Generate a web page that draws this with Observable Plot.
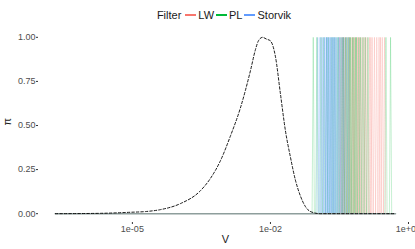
<!DOCTYPE html>
<html>
<head>
<meta charset="utf-8">
<script src="https://cdn.jsdelivr.net/npm/d3@7"></script>
<script src="https://cdn.jsdelivr.net/npm/@observablehq/plot@0.6"></script>
<style>
  html, body { margin: 0; padding: 0; background: white; overflow: hidden; }
  #wrap { position: relative; width: 415px; height: 249px; font-family: "Liberation Sans", Arial, sans-serif; }
  #legend { position: absolute; top: 8px; left: 38px; right: 3px; height: 14px; display: flex; justify-content: center; align-items: center; font-size: 11px; color: #1a1a1a; }
  #legend .title { margin-right: 4px; }
  #legend .sw { width: 11px; height: 1.2px; margin: 0 2px 0 0; }
  #legend .lab { margin-right: 2px; }
</style>
</head>
<body>
<div id="wrap"><div id="legend"></div></div>
<script>
// ---- data ----
const filters = ["LW", "PL", "Storvik"];
const filterColors = ["#F8766D", "#00BA38", "#619CFF"];

// prior curve (dashed): log10(V) and normalized density pi
const priorLogV = [-6.674, -5.696, -5.043, -4.717, -4.391, -3.957, -3.522, -3.304, -3.087, -2.870, -2.652, -2.435, -2.326, -2.261, -2.174, -2.087, -2.000, -1.891, -1.783, -1.674, -1.565, -1.457, -1.348, -1.239, -1.130, -0.913, 0.717];
const priorPi   = [0, 0.002, 0.008, 0.012, 0.023, 0.057, 0.13, 0.20, 0.30, 0.44, 0.60, 0.81, 0.93, 0.98, 1.0, 0.99, 0.98, 0.89, 0.68, 0.47, 0.32, 0.19, 0.10, 0.04, 0.012, 0, 0];

// spike locations (log10 V) for each filter run
const spikesLW = [-0.50, -0.46, -0.43, -0.41, -0.38, -0.36, -0.32, -0.29, -0.27, -0.23, -0.21, -0.18, -0.16, -0.12, -0.10, -0.07, -0.05, -0.01, 0.03, 0.06, 0.10, 0.15, 0.18, 0.21, 0.26, 0.31, 0.36, 0.39, 0.43, 0.48];
const spikesPL = [-1.07, -0.99, -0.90, -0.84, -0.78, -0.74, -0.68, -0.64, -0.60, -0.55, -0.52, -0.47, -0.43, -0.41, -0.37, -0.34, -0.31, -0.28, -0.26, -0.22, -0.19, -0.15, -0.13, -0.08, -0.04, 0.01, 0.06, 0.12, 0.51, 0.61];
const spikesStorvik = [-0.98, -0.94, -0.91, -0.88, -0.86, -0.83, -0.82, -0.79, -0.78, -0.76, -0.75, -0.73, -0.71, -0.70, -0.68, -0.66, -0.65, -0.63, -0.61, -0.60, -0.58, -0.56, -0.53, -0.51, -0.49, -0.46, -0.43, -0.40, -0.35, -0.30];

// grid bounds (log10 V) and grid step half-width for the spikes
const gridMin = -6.674, gridMax = 0.717, gridStep = 0.025;
// blended colour of the overlapping zero-density parts of all runs
const baselineColor = "#8e9e9c";

// axis ticks
const xTicks = [1e-5, 1e-2, 1e1];
const xTickLabels = ["1e-05", "1e-02", "1e+01"];
const yTicks = [0, 0.25, 0.5, 0.75, 1];
const yTickLabels = ["0.00", "0.25", "0.50", "0.75", "1.00"];

// ---- build tables ----
const prior = priorLogV.map((l, i) => ({V: 10 ** l, pi: priorPi[i]}));
const spikeSets = {LW: spikesLW, PL: spikesPL, Storvik: spikesStorvik};
const spikes = [];
let run = 0;
const maxRuns = Math.max(spikesLW.length, spikesPL.length, spikesStorvik.length);
for (let k = 0; k < maxRuns; k++) {
  for (const f of filters) {
    const c = spikeSets[f][k];
    if (c === undefined) continue;
    run++;
    for (const [l, p] of [[c - gridStep, 0], [c, 1], [c + gridStep, 0]]) {
      spikes.push({V: 10 ** l, pi: p, filter: f, run});
    }
  }
}
const baseline = [{V: 10 ** gridMin, pi: 0}, {V: 10 ** gridMax, pi: 0}];

const fmtX = d => {
  const i = xTicks.findIndex(t => Math.abs(Math.log10(t) - Math.log10(d)) < 1e-6);
  return i >= 0 ? xTickLabels[i] : "";
};
const fmtY = d => {
  const i = yTicks.findIndex(t => Math.abs(t - d) < 1e-9);
  return i >= 0 ? yTickLabels[i] : "";
};

// ---- legend ----
const leg = document.getElementById("legend");
leg.innerHTML = `<span class="title">Filter</span>` + filters.map((f, i) =>
  `<span class="sw" style="background:${filterColors[i]}"></span><span class="lab">${f}</span>`).join("");

// ---- chart ----
const chart = Plot.plot({
  width: 415,
  height: 249,
  marginLeft: 38,
  marginRight: 3,
  marginTop: 28,
  marginBottom: 27,
  style: {fontFamily: '"Liberation Sans", Arial, sans-serif', background: "white", color: "#4d4d4d"},
  x: {type: "log", domain: [10 ** -7.04, 10 ** 1.087]},
  y: {domain: [-0.05, 1.05]},
  color: {domain: filters, range: filterColors},
  marks: [
    Plot.line(spikes, {x: "V", y: "pi", z: "run", stroke: "filter", strokeOpacity: 0.22, strokeWidth: 1}),
    Plot.line(baseline, {x: "V", y: "pi", stroke: baselineColor, strokeWidth: 1.6}),
    Plot.line(prior, {x: "V", y: "pi", stroke: "black", strokeWidth: 0.9, strokeDasharray: "2.5,2", curve: "monotone-x"}),
    Plot.axisX({ticks: xTicks, tickFormat: fmtX, tickSize: 2, tickPadding: 1, fontSize: 9, label: null, stroke: "#333"}),
    Plot.axisY({ticks: yTicks, tickFormat: fmtY, tickSize: 2, tickPadding: 1, fontSize: 9, label: null, stroke: "#333"}),
    Plot.text(["V"], {frameAnchor: "bottom", dy: 20, fontSize: 11, fill: "#1a1a1a"}),
    Plot.text(["π"], {frameAnchor: "left", dx: -31, rotate: -90, fontSize: 11, fill: "#1a1a1a"})
  ]
});
document.getElementById("wrap").appendChild(chart);
</script>
</body>
</html>
